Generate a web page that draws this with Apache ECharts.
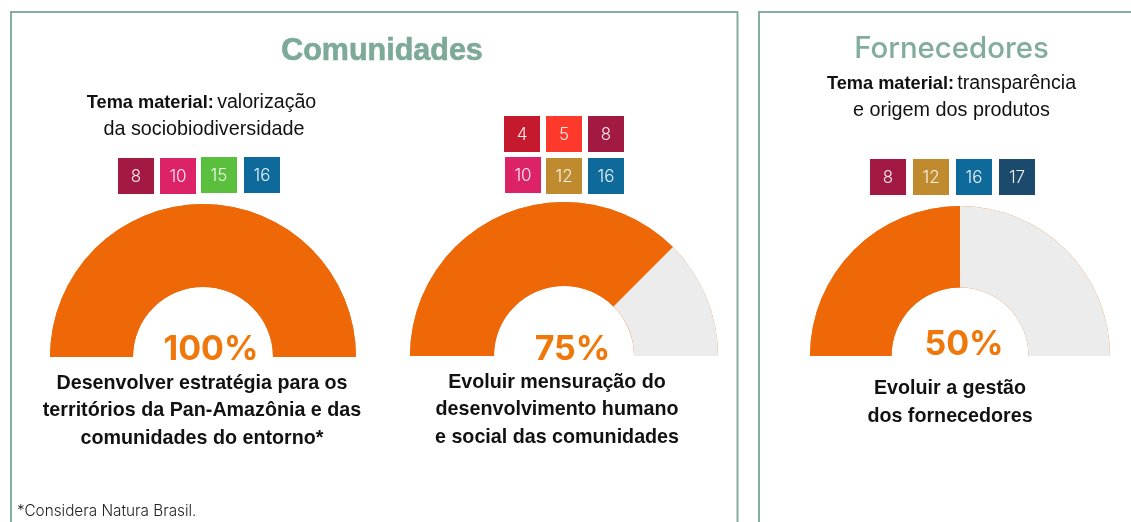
<!DOCTYPE html>
<html>
<head>
<meta charset="utf-8">
<title>Comunidades e Fornecedores</title>
<script src="https://cdn.jsdelivr.net/npm/echarts@6/dist/echarts.min.js"></script>
<style>
  html, body { margin: 0; padding: 0; background: #fff; }
  #chart { width: 1131px; height: 522px; }
</style>
</head>
<body>
<div id="chart"></div>
<script>
// progress of each goal, in percent
const gaugeNames = ['Pan-Amazônia', 'Desenvolvimento humano', 'Fornecedores']
const gaugeValues = [100, 75, 50]

// SDG numbers shown above each gauge
const badgesA = [8, 10, 15, 16]
const badgesB = [4, 5, 8, 10, 12, 16]
const badgesC = [8, 12, 16, 17]

const goalA = ['Desenvolver estratégia para os', 'territórios da Pan-Amazônia e das', 'comunidades do entorno*']
const goalB = ['Evoluir mensuração do', 'desenvolvimento humano', 'e social das comunidades']
const goalC = ['Evoluir a gestão', 'dos fornecedores']

const ORANGE = '#EE6808'
const GREY = '#ECECEC'
const GREEN = '#84AE9F'
const FONT = '"Liberation Sans", Arial, sans-serif'
const FONT_WIDE = 'Inter, "Liberation Sans", sans-serif'

const sdgColors = {
  4: '#C5192D', 5: '#FF3A2D', 8: '#A21942', 10: '#DD2368',
  12: '#BF8B2E', 15: '#5BBF3E', 16: '#0F6A9C', 17: '#1B4A6C'
}

const gaugeLayout = [
  { cx: 203, cy: 357, r: 153, inner: 70, labelX: 211, labelY: 350, goalX: 202, goalY: 383.5 },
  { cx: 564, cy: 356, r: 154, inner: 70, labelX: 572.5, labelY: 350, goalX: 557, goalY: 382.5 },
  { cx: 960, cy: 356, r: 150, inner: 68.5, labelX: 964, labelY: 345, goalX: 950, goalY: 389 }
]
const goals = [goalA, goalB, goalC]

const badgeBoxes = [
  { list: badgesA, xy: [[118, 158], [160, 158], [201, 157], [244, 157]] },
  { list: badgesB, xy: [[504, 116], [546, 116], [588, 116], [505, 157], [546, 158], [588, 158]] },
  { list: badgesC, xy: [[870, 159], [913, 159], [956, 159], [999, 159]] }
]

function textEl(text, x, y, size, weight, color, extra) {
  return {
    type: 'text',
    silent: true,
    style: Object.assign({
      text: text, x: x, y: y, fill: color, align: 'center', verticalAlign: 'middle',
      fontFamily: FONT, fontSize: size, fontWeight: weight
    }, extra || {})
  }
}

function lineEl(x1, y1, x2, y2) {
  return {
    type: 'line',
    silent: true,
    shape: { x1: x1, y1: y1, x2: x2, y2: y2 },
    style: { stroke: GREEN, lineWidth: 2 }
  }
}

function pieSeries(name, layout, data) {
  return {
    type: 'pie',
    name: name,
    silent: true,
    animation: false,
    center: [layout.cx, layout.cy],
    radius: [layout.inner, layout.r],
    startAngle: 180,
    endAngle: 0,
    label: { show: false },
    labelLine: { show: false },
    data: data
  }
}

function temaEl(rest, x, y) {
  return {
    type: 'text',
    silent: true,
    style: {
      x: x, y: y, align: 'center', verticalAlign: 'middle',
      text: '{b|Tema material:} {n|' + rest + '}',
      rich: {
        b: { fontFamily: FONT, fontSize: 18.2, fontWeight: 'bold', fill: '#111' },
        n: { fontFamily: FONT, fontSize: 19.6, fill: '#111' }
      }
    }
  }
}

const series = []
const graphics = [
  lineEl(11, 523, 11, 12), lineEl(10, 12, 738, 12), lineEl(737.5, 12, 737.5, 523),
  lineEl(759, 523, 759, 12), lineEl(758, 12, 1131, 12)
]

gaugeValues.forEach(function(value, i) {
  const layout = gaugeLayout[i]
  // full orange arc underneath gives the thin edge seen around the grey part
  series.push(pieSeries(gaugeNames[i] + ' base', layout, [
    { value: 100, itemStyle: { color: ORANGE } }
  ]))
  series.push(pieSeries(gaugeNames[i], layout, [
    { value: value, itemStyle: { color: ORANGE } },
    { value: 100 - value, itemStyle: { color: GREY } }
  ]))
  graphics.push(textEl(value + '%', layout.labelX, layout.labelY, 34, 'bold', '#F0780A', { fontFamily: FONT_WIDE }))
  goals[i].forEach(function(line, j) {
    graphics.push(textEl(line, layout.goalX, layout.goalY + j * 27.5, 19.7, 'bold', '#111'))
  })
})

badgeBoxes.forEach(function(box) {
  box.list.forEach(function(num, j) {
    const x = box.xy[j][0]
    const y = box.xy[j][1]
    graphics.push({
      type: 'rect',
      silent: true,
      shape: { x: x, y: y, width: 36, height: 36 },
      style: { fill: sdgColors[num] }
    })
    graphics.push(textEl(String(num), x + 18, y + 19, 17, 300, 'rgba(255,255,255,0.9)', { fontFamily: FONT_WIDE }))
  })
})

graphics.push(textEl('Comunidades', 382, 51.5, 30.5, 'bold', '#7DA998', { stroke: '#7DA998', lineWidth: 0.6 }))
graphics.push(textEl('Fornecedores', 951.5, 49, 29.4, 500, '#82AD9D', { fontFamily: FONT_WIDE }))

graphics.push(temaEl('valorização', 201.5, 103))
graphics.push(textEl('da sociobiodiversidade', 204, 130, 19.8, 'normal', '#111'))
graphics.push(temaEl('transparência', 951.5, 84))
graphics.push(textEl('e origem dos produtos', 951.5, 111, 19.8, 'normal', '#111'))
graphics.push(textEl('*Considera Natura Brasil.', 17, 511, 15.3, 300, '#222', { fontFamily: FONT_WIDE, align: 'left' }))

const chart = echarts.init(document.getElementById('chart'), null, { renderer: 'canvas' })
chart.setOption({
  animation: false,
  backgroundColor: '#fff',
  tooltip: { show: false },
  legend: { show: false },
  series: series,
  graphic: { elements: graphics }
})
</script>
</body>
</html>
